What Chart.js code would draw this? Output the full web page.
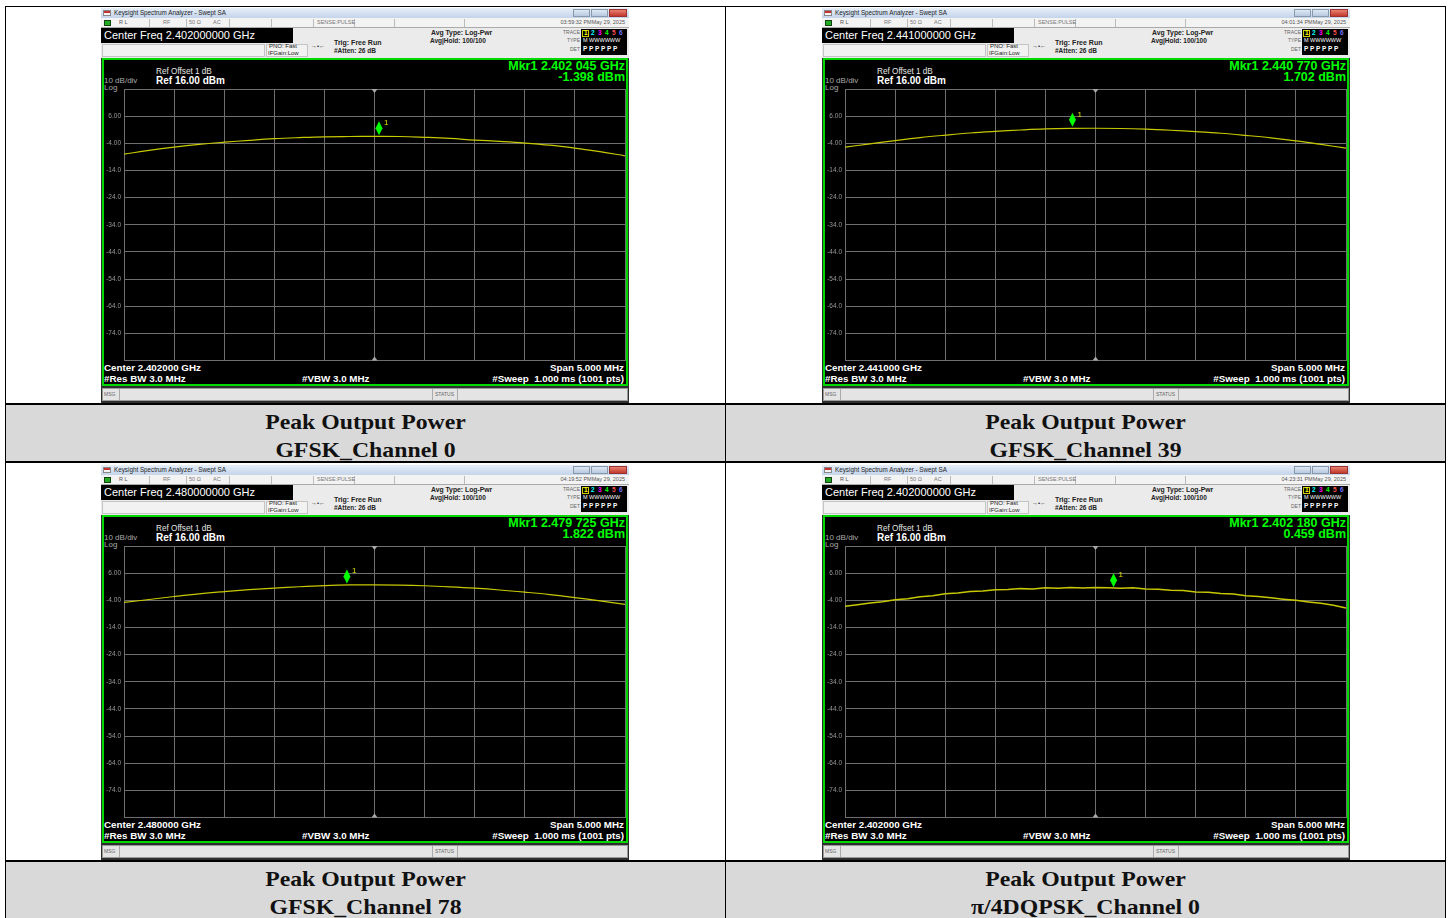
<!DOCTYPE html>
<html>
<head>
<meta charset="utf-8">
<script src="https://cdn.jsdelivr.net/npm/chart.js@4.4.1/dist/chart.umd.min.js"></script>
<style>
  body { margin: 0; background: #fff; width: 1453px; height: 918px; overflow: hidden; position: relative; font-family: "Liberation Sans", Arial, sans-serif; }
  .a { position: absolute; white-space: nowrap; line-height: 1; }
  .scr { position: absolute; width: 528px; height: 395px; background: #2e2e2e; overflow: hidden; }
  .box { position: absolute; }
  .line { position: absolute; background: #000; }
  .cap { position: absolute; width: 719px; text-align: center; font: bold 22px "Liberation Serif", serif; line-height: 28px; color: #111; transform: scaleX(1.08); }
</style>
</head>
<body>
<div id="page"></div>
<script>
// frequency offsets from the centre, MHz (span 5 MHz)
const gfskOffsets = [-2.5, -2.25, -2.0, -1.75, -1.5, -1.25, -1.0, -0.75, -0.5, -0.25, 0,
  0.25, 0.5, 0.75, 1.0, 1.25, 1.5, 1.75, 2.0, 2.25, 2.5];
const dqpskOffsets = [-2.5, -2.375, -2.25, -2.125, -2.0, -1.875, -1.75, -1.625, -1.5, -1.375,
  -1.25, -1.125, -1.0, -0.875, -0.75, -0.625, -0.5, -0.375, -0.25, -0.125, 0,
  0.125, 0.25, 0.375, 0.5, 0.625, 0.75, 0.875, 1.0, 1.125, 1.25, 1.375, 1.5,
  1.625, 1.75, 1.875, 2.0, 2.125, 2.25, 2.375, 2.5];

// trace levels, dBm
const ch0Levels = [-8.0, -6.6, -5.4, -4.4, -3.6, -2.9, -2.3, -1.9, -1.6, -1.5, -1.45,
  -1.5, -1.8, -2.2, -2.8, -3.3, -3.9, -4.7, -5.8, -7.1, -8.6];
const ch39Levels = [-5.4, -4.2, -3.0, -1.9, -1.0, -0.2, 0.4, 0.9, 1.3, 1.5, 1.55,
  1.45, 1.2, 0.8, 0.3, -0.3, -1.1, -2.0, -3.1, -4.4, -5.8];
const ch78Levels = [-4.8, -3.7, -2.6, -1.6, -0.8, -0.1, 0.5, 1.0, 1.4, 1.65, 1.7,
  1.6, 1.35, 0.95, 0.45, -0.2, -1.0, -1.9, -3.0, -4.2, -5.5];
const dqpskLevels = [-6.2, -5.6, -5.0, -4.5, -3.8, -3.4, -2.7, -2.3, -1.6, -1.3,
  -0.8, -0.6, -0.1, 0.0, 0.3, 0.2, 0.6, 0.4, 0.7, 0.5, 0.7,
  0.6, 0.4, 0.6, 0.2, 0.1, -0.3, -0.4, -0.9, -1.0, -1.5, -1.7, -2.3,
  -2.6, -3.1, -3.6, -4.0, -4.6, -5.1, -5.8, -6.8];

// y axis: Ref 16 dBm, 10 dB/div
const yTickValues = [6, -4, -14, -24, -34, -44, -54, -64, -74];
const yTickLabels = ['6.00', '-4.00', '-14.0', '-24.0', '-34.0', '-44.0', '-54.0', '-64.0', '-74.0'];

const centerFreqs = ['2.402000', '2.441000', '2.480000', '2.402000'];
const markerFreqs = ['2.402045', '2.440770', '2.479725', '2.402180'];
const markerLevels = [-1.398, 1.702, 1.822, 0.459];
const timestamps = ['03:59:32 PMMay 29, 2025', '04:01:34 PMMay 29, 2025', '04:19:52 PMMay 29, 2025', '04:23:31 PMMay 29, 2025'];
const captionTitles = ['Peak Output Power', 'Peak Output Power', 'Peak Output Power', 'Peak Output Power'];
const captionModes = ['GFSK_Channel 0', 'GFSK_Channel 39', 'GFSK_Channel 78', 'π/4DQPSK_Channel 0'];

const traces = [
  [gfskOffsets, ch0Levels],
  [gfskOffsets, ch39Levels],
  [gfskOffsets, ch78Levels],
  [dqpskOffsets, dqpskLevels]
];

const screenPos = [[101, 8], [822, 8], [101, 465], [822, 465]];
const gridColor = '#6e6e6e';

function T(x, cy, size, text, style) {
  return `<div class="a" style="left:${x}px;top:${cy - 0.49 * size}px;font-size:${size}px;${style || ''}">${text}</div>`;
}
function R(xr, cy, size, text, style) {
  return `<div class="a" style="right:${528 - xr}px;top:${cy - 0.49 * size}px;font-size:${size}px;${style || ''}">${text}</div>`;
}
function B(x, y, w, h, style) {
  return `<div class="box" style="left:${x}px;top:${y}px;width:${w}px;height:${h}px;${style}"></div>`;
}

function screenHTML(i) {
  const [sx, sy] = screenPos[i];
  const mf = markerFreqs[i];
  const mkrText = 'Mkr1 ' + mf.slice(0, 5) + ' ' + mf.slice(5) + ' GHz';
  let h = `<div class="scr" style="left:${sx}px;top:${sy}px">`;
  // window title bar
  h += B(0, 0, 528, 10, 'background:linear-gradient(#e6eef9,#c4d4ea)');
  h += B(2, 2, 8, 6, 'background:linear-gradient(#c83232 50%,#f4f4f4 50%);border:1px solid #888;box-sizing:border-box');
  h += T(13, 5, 6.3, 'Keysight Spectrum Analyzer - Swept SA', 'color:#222');
  h += B(472, 1, 17, 8, 'background:linear-gradient(#dfe8f4,#b8c9e0);border:1px solid #8899aa;box-sizing:border-box');
  h += B(490, 1, 17, 8, 'background:linear-gradient(#dfe8f4,#b8c9e0);border:1px solid #8899aa;box-sizing:border-box');
  h += B(508, 1, 18, 8, 'background:linear-gradient(#e88070,#c0392b);border:1px solid #933;box-sizing:border-box');
  // status row
  h += B(0, 10, 528, 10, 'background:#f3f3f3;border-bottom:1px solid #aaa;box-sizing:border-box');
  h += B(3, 12, 7, 6, 'background:#22aa22;border:1px solid #114411;box-sizing:border-box');
  [48, 85, 128, 170, 212, 253, 293, 363].forEach(x => { h += B(x, 11, 1, 8, 'background:#bbb'); });
  h += T(18, 15, 5.5, 'R L', 'color:#555');
  h += T(62, 15, 5.5, 'RF', 'color:#777');
  h += T(88, 15, 5.5, '50 Ω', 'color:#777');
  h += T(112, 15, 5.5, 'AC', 'color:#777');
  h += T(216, 15, 5.5, 'SENSE:PULSE', 'color:#777');
  h += R(524, 15, 5.5, timestamps[i], 'color:#555');
  // settings row
  h += B(0, 20, 528, 30, 'background:#ebebeb');
  h += B(0, 20, 192, 15, 'background:#000');
  h += T(3, 27.5, 11, 'Center Freq ' + centerFreqs[i] + '000 GHz', 'color:#fff');
  h += B(1, 36, 163, 13, 'background:#f2f2f2;border:1px solid #c4c4c4;box-sizing:border-box');
  h += B(165, 36, 42, 13, 'background:#f2f2f2;border:1px solid #c4c4c4;box-sizing:border-box');
  h += T(168, 37.5, 6, 'PNO: Fast', 'color:#222');
  h += T(167, 44.5, 6, 'IFGain:Low', 'color:#222');
  h += T(210, 38, 6, '→•←', 'color:#222');
  h += T(233, 34.5, 7, 'Trig: Free Run', 'color:#222;font-weight:bold');
  h += T(233, 43.5, 6.5, '#Atten: 26 dB', 'color:#222;font-weight:bold');
  h += T(330, 25, 6.8, 'Avg Type: Log-Pwr', 'color:#222;font-weight:bold');
  h += T(329, 33.5, 6.5, 'Avg|Hold: 100/100', 'color:#222;font-weight:bold');
  h += R(479, 24, 5, 'TRACE', 'color:#666');
  h += R(479, 32.5, 5, 'TYPE', 'color:#666');
  h += R(479, 41, 5, 'DET', 'color:#666');
  h += B(480, 21, 46, 26, 'background:#000');
  h += B(481, 21.5, 7, 7, 'border:1px solid #cccc00;box-sizing:border-box');
  ['#ffff00', '#00ffff', '#ff00ff', '#00ff00', '#ff5050', '#7070ff'].forEach((c, k) => {
    h += T(483 + k * 7, 25, 6.5, String(k + 1), 'color:' + c + ';font-weight:bold');
  });
  h += T(482, 33, 5.5, 'M WWWWWW', 'color:#fff');
  h += T(482, 41.5, 6.5, 'P P P P P P', 'color:#fff;font-weight:bold');
  // display
  h += B(1, 50, 526, 328, 'background:#000;border:2px solid #00d800;box-sizing:border-box');
  h += T(55, 64, 8.2, 'Ref Offset 1 dB', 'color:#e6e6e6');
  h += T(3, 73, 8, '10 dB/div', 'color:#aaa');
  h += T(55, 73, 10, 'Ref 16.00 dBm', 'color:#fff;font-weight:bold');
  h += T(3, 80, 8, 'Log', 'color:#aaa');
  h += R(524, 58, 12.5, mkrText, 'color:#00ff00;font-weight:bold');
  h += R(524, 69.5, 12.5, markerLevels[i].toFixed(3) + ' dBm', 'color:#00ff00;font-weight:bold');
  h += T(3, 359.5, 9.8, 'Center ' + centerFreqs[i] + ' GHz', 'color:#fff;font-weight:bold');
  h += T(3, 370.5, 9.8, '#Res BW 3.0 MHz', 'color:#fff;font-weight:bold');
  h += T(201, 370.5, 9.8, '#VBW 3.0 MHz', 'color:#fff;font-weight:bold');
  h += R(523, 359.5, 9.8, 'Span 5.000 MHz', 'color:#fff;font-weight:bold');
  h += R(523, 370.5, 9.8, '#Sweep&nbsp; 1.000 ms (1001 pts)', 'color:#fff;font-weight:bold');
  h += `<canvas id="c${i}" width="523" height="278" style="position:absolute;left:2px;top:78px"></canvas>`;
  // message bar
  h += B(1, 380, 526, 13, 'background:#e4e4e4;border:1px solid #999;box-sizing:border-box');
  h += B(18, 381, 1, 11, 'background:#aaa');
  h += B(331, 381, 1, 11, 'background:#aaa');
  h += B(356, 381, 1, 11, 'background:#aaa');
  h += T(3, 386.5, 5, 'MSG', 'color:#666');
  h += T(334, 386.5, 5, 'STATUS', 'color:#666');
  h += '</div>';
  return h;
}

let html = '';
// caption backgrounds
[[6, 405], [726, 405], [6, 862], [726, 862]].forEach(([x, y]) => {
  html += B(x, y, 719, 56, 'background:#d9d9d9');
});
// table rules
html += `<div class="line" style="left:5px;top:6px;width:1441px;height:1px"></div>`;
[403, 461, 860].forEach(y => { html += `<div class="line" style="left:5px;top:${y}px;width:1441px;height:2px"></div>`; });
[5, 725, 1445].forEach(x => { html += `<div class="line" style="left:${x}px;top:6px;width:1px;height:912px"></div>`; });
for (let i = 0; i < 4; i++) html += screenHTML(i);
[[6, 407.5], [726, 407.5], [6, 864.5], [726, 864.5]].forEach(([x, y], i) => {
  html += `<div class="cap" style="left:${x}px;top:${y}px">${captionTitles[i]}<br>${captionModes[i]}</div>`;
});
document.getElementById('page').innerHTML = html;

const markerPlugin = {
  id: 'marker',
  afterDatasetsDraw(chart, args, opts) {
    const { ctx, chartArea } = chart;
    const x = chart.scales.x, y = chart.scales.y;
    const cx = x.getPixelForValue(0);
    ctx.save();
    ctx.fillStyle = '#a8a8a8';
    ctx.beginPath();
    ctx.moveTo(cx - 3, chartArea.top); ctx.lineTo(cx + 3, chartArea.top); ctx.lineTo(cx, chartArea.top + 4);
    ctx.fill();
    ctx.beginPath();
    ctx.moveTo(cx - 3, chartArea.bottom); ctx.lineTo(cx + 3, chartArea.bottom); ctx.lineTo(cx, chartArea.bottom - 4);
    ctx.fill();
    const mx = x.getPixelForValue(opts.x);
    const my = y.getPixelForValue(opts.y);
    ctx.fillStyle = '#00ff00';
    ctx.beginPath();
    ctx.moveTo(mx, my - 15); ctx.lineTo(mx + 3.5, my - 8); ctx.lineTo(mx, my - 1); ctx.lineTo(mx - 3.5, my - 8);
    ctx.closePath();
    ctx.fill();
    ctx.fillStyle = '#e0e000';
    ctx.font = '8px "Liberation Sans"';
    ctx.fillText('1', mx + 5, my - 11);
    ctx.restore();
  }
};

for (let i = 0; i < 4; i++) {
  const [offs, lv] = traces[i];
  const mkrOffset = (parseFloat(markerFreqs[i]) - parseFloat(centerFreqs[i])) * 1000;
  new Chart(document.getElementById('c' + i).getContext('2d'), {
    type: 'line',
    data: {
      datasets: [{
        data: offs.map((x, k) => ({ x: x, y: lv[k] })),
        borderColor: '#c8c800',
        borderWidth: i === 3 ? 1.5 : 1.2,
        pointRadius: 0,
        tension: i === 3 ? 0 : 0.4,
        fill: false
      }]
    },
    options: {
      responsive: false,
      animation: false,
      events: [],
      layout: { padding: { top: 3, right: 1, bottom: 3.5, left: 0 } },
      plugins: {
        legend: { display: false },
        tooltip: { enabled: false },
        marker: { x: mkrOffset, y: markerLevels[i] }
      },
      scales: {
        x: {
          type: 'linear', min: -2.5, max: 2.5,
          ticks: { display: false, stepSize: 0.5 },
          grid: { color: gridColor, drawTicks: false },
          border: { color: gridColor },
          afterFit: s => { s.height = 0; s.paddingLeft = 0; s.paddingRight = 0; }
        },
        y: {
          min: -84, max: 16,
          ticks: {
            stepSize: 10, color: '#9a9a9a', padding: 3,
            font: { size: 6.5, family: '"Liberation Sans"' },
            callback: v => { const k = yTickValues.indexOf(v); return k < 0 ? '' : yTickLabels[k]; }
          },
          grid: { color: gridColor, drawTicks: false },
          border: { color: gridColor },
          afterFit: s => { s.width = 21; s.paddingTop = 0; s.paddingBottom = 0; }
        }
      }
    },
    plugins: [markerPlugin]
  });
}
</script>
</body>
</html>
